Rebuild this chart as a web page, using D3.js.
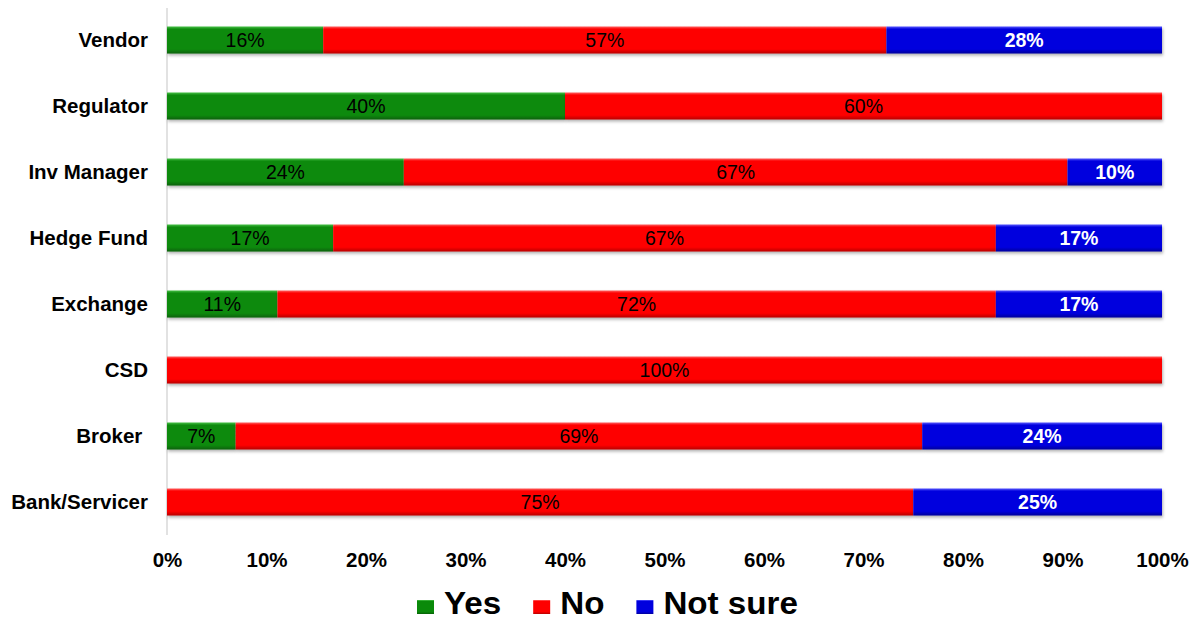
<!DOCTYPE html>
<html>
<head>
<meta charset="utf-8">
<script src="https://cdn.jsdelivr.net/npm/d3@7"></script>
<style>
  html, body { margin: 0; padding: 0; background: #fff; }
  svg { display: block; font-family: "Liberation Sans", Arial, sans-serif; }
  .cat { white-space: pre; }
</style>
</head>
<body>
<svg id="chart" width="1199" height="622"></svg>
<script>
// Respondent groups, top to bottom
const categories = ["Vendor", "Regulator", "Inv Manager", "Hedge Fund", "Exchange", "CSD", "Broker ", "Bank/Servicer"];
// Share of answers per group (%)
const yesValues     = [15.7, 40, 23.8, 16.7, 11.1, 0, 6.9, 0];
const noValues      = [56.6, 60, 66.7, 66.6, 72.2, 100, 69.0, 75];
const notSureValues = [27.7, 0, 9.5, 16.7, 16.7, 0, 24.1, 25];
const seriesNames = ["Yes", "No", "Not sure"];
const tickValues = [0, 10, 20, 30, 40, 50, 60, 70, 80, 90, 100];

const colors = {
  "Yes":      { base: "#0a8a0a", light: "#4cc24c", dark: "#066006", text: "#000", weight: "normal" },
  "No":       { base: "#fe0000", light: "#ff6464", dark: "#b80000", text: "#000", weight: "normal" },
  "Not sure": { base: "#0000de", light: "#5a5aff", dark: "#00009a", text: "#fff", weight: "bold" }
};

const svg = d3.select("#chart");
const margin = { left: 167, right: 37 };
const width = 1199;

const x = d3.scaleLinear().domain([0, 100]).range([margin.left, width - margin.right]);
const y = d3.scaleBand().domain(categories).range([7, 535]).paddingInner(0.59).paddingOuter(0.295);

// Bevelled fills and a soft drop shadow
const defs = svg.append("defs");
seriesNames.forEach((s, i) => {
  const c = colors[s];
  const g = defs.append("linearGradient").attr("id", "grad" + i)
    .attr("x1", 0).attr("y1", 0).attr("x2", 0).attr("y2", 1);
  g.append("stop").attr("offset", "0%").attr("stop-color", c.light);
  g.append("stop").attr("offset", "10%").attr("stop-color", c.base);
  g.append("stop").attr("offset", "84%").attr("stop-color", c.base);
  g.append("stop").attr("offset", "100%").attr("stop-color", c.dark);
});
const f = defs.append("filter").attr("id", "shadow")
  .attr("x", "-5%").attr("y", "-30%").attr("width", "110%").attr("height", "180%");
f.append("feDropShadow").attr("dx", 1).attr("dy", 2).attr("stdDeviation", 1.5)
  .attr("flood-color", "#000").attr("flood-opacity", 0.3);

// Stack the three answer series
const rows = categories.map((c, i) => ({
  cat: c, "Yes": yesValues[i], "No": noValues[i], "Not sure": notSureValues[i]
}));
const stacked = d3.stack().keys(seriesNames)(rows);

// Vertical axis line
svg.append("line")
  .attr("x1", x(0)).attr("x2", x(0))
  .attr("y1", 8).attr("y2", 535)
  .attr("stroke", "#d9d9d9").attr("stroke-width", 1.5);

const layers = svg.append("g").selectAll("g")
  .data(stacked).join("g")
  .attr("fill", (d, i) => `url(#grad${i})`);

layers.selectAll("rect")
  .data(d => d.filter(p => p[1] - p[0] > 0))
  .join("rect")
  .attr("x", d => x(d[0]))
  .attr("y", d => y(d.data.cat))
  .attr("width", d => x(d[1]) - x(d[0]))
  .attr("height", y.bandwidth())
  .attr("filter", "url(#shadow)");

// Value labels inside segments
stacked.forEach(layer => {
  const c = colors[layer.key];
  svg.append("g").selectAll("text")
    .data(layer.filter(p => p[1] - p[0] > 0))
    .join("text")
    .attr("x", d => (x(d[0]) + x(d[1])) / 2)
    .attr("y", d => y(d.data.cat) + y.bandwidth() / 2)
    .attr("dy", "0.36em")
    .attr("text-anchor", "middle")
    .attr("font-size", 19.5)
    .attr("font-weight", c.weight)
    .attr("fill", c.text)
    .text(d => Math.round(d[1] - d[0]) + "%");
});

// Category labels
svg.append("g").selectAll("text")
  .data(categories).join("text")
  .attr("class", "cat")
  .attr("x", 148)
  .attr("y", d => y(d) + y.bandwidth() / 2)
  .attr("dy", "0.36em")
  .attr("text-anchor", "end")
  .attr("font-size", 20.5)
  .attr("font-weight", "bold")
  .attr("fill", "#000")
  .text(d => d);

// Percentage axis
const xAxis = d3.axisBottom(x).tickValues(tickValues).tickSize(0).tickFormat(d => d + "%");
const ax = svg.append("g").attr("transform", "translate(0,552)").call(xAxis);
ax.select(".domain").remove();
ax.selectAll("text")
  .attr("font-size", 20.5)
  .attr("font-weight", "bold")
  .attr("fill", "#000")
  .attr("font-family", "'Liberation Sans', Arial, sans-serif")
  .attr("dy", "0.71em")
  .attr("y", 0);

// Legend
const legend = svg.append("g");
let lx = 417;
seriesNames.forEach((s, i) => {
  legend.append("rect")
    .attr("x", lx).attr("y", 600).attr("width", 17).attr("height", 14)
    .attr("fill", `url(#grad${i})`);
  const t = legend.append("text")
    .attr("transform", `translate(${lx + 27},614) scale(1.07,1)`)
    .attr("font-size", 31).attr("font-weight", "bold").attr("fill", "#000")
    .text(s);
  lx += 27 + t.node().getComputedTextLength() * 1.07 + 32;
});
</script>
</body>
</html>
